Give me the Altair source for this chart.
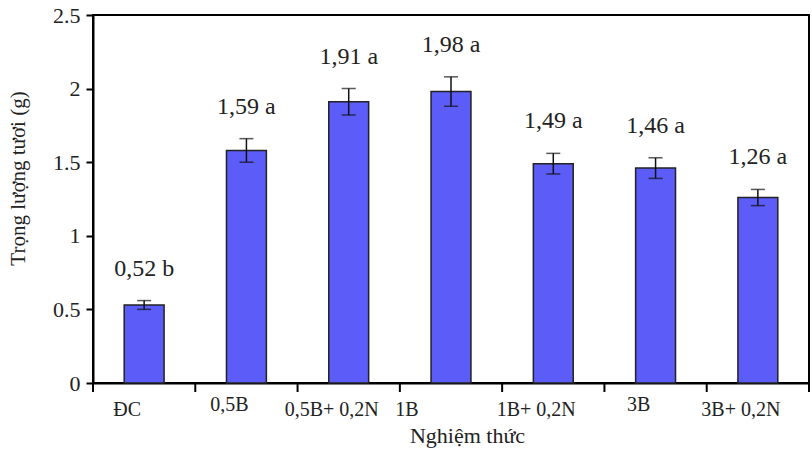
import altair as alt
import pandas as pd

categories = ["ĐC", "0,5B", "0,5B+ 0,2N", "1B", "1B+ 0,2N", "3B", "3B+ 0,2N"]
values = [0.53, 1.58, 1.91, 1.98, 1.49, 1.46, 1.26]
errors = [0.03, 0.08, 0.09, 0.10, 0.07, 0.07, 0.055]
labels = ["0,52 b", "1,59 a", "1,91 a", "1,98 a", "1,49 a", "1,46 a", "1,26 a"]

df = pd.DataFrame({
    "cat": categories,
    "val": values,
    "err": errors,
    "lab": labels,
})
df["lo"] = df["val"] - df["err"]
df["hi"] = df["val"] + df["err"]

FONT = "Liberation Serif, Times New Roman, serif"
P_IN = 0.61

x_scale = alt.Scale(paddingInner=P_IN, paddingOuter=P_IN / 2)

x = alt.X(
    "cat:N",
    sort=categories,
    scale=x_scale,
    axis=alt.Axis(
        title="Nghiệm thức",
        labelAngle=0,
        ticks=False,
        labelOffset={"condition": {"test": "datum.value == '1B'", "value": -44}, "value": -17},
        labelPadding={"condition": {"test": "datum.value == '0,5B' || datum.value == '3B'", "value": 11}, "value": 16},
        titleX=374,
    ),
)
x_plain = alt.X("cat:N", sort=categories)

y_scale = alt.Scale(domain=[0, 2.5], nice=False, zero=True)
y_axis = alt.Axis(
    title="Trọng lượng tươi (g)",
    values=[0, 0.5, 1, 1.5, 2, 2.5],
    labelExpr="datum.value",
    grid=False,
    titleX=-75,
    titleY=163,
)

base = alt.Chart(df)

bars = base.mark_bar(color="#5c5cf8", stroke="#222", strokeWidth=1.5).encode(
    x=x,
    y=alt.Y("val:Q", scale=y_scale, axis=y_axis),
)

rule = base.mark_rule(color="#111", strokeWidth=1.5).encode(
    x=x_plain,
    y="lo:Q",
    y2="hi:Q",
)

cap_hi = base.mark_tick(color="#111", size=14, thickness=1.5).encode(
    x=x_plain,
    y="hi:Q",
)
cap_lo = base.mark_tick(color="#111", size=14, thickness=1.5).encode(
    x=x_plain,
    y="lo:Q",
)

text = base.mark_text(
    font=FONT, fontSize=24, baseline="bottom", dy=-20, color="#222"
).encode(
    x=x_plain,
    y="hi:Q",
    text="lab:N",
)

main = alt.layer(bars, rule, cap_hi, cap_lo, text)

# x-axis ticks at category boundaries (own band scale with no padding)
tick_scale = alt.Scale(paddingInner=0, paddingOuter=0)
ticks_left = base.mark_rule(color="black", strokeWidth=2).encode(
    x=alt.X("cat:N", sort=categories, scale=tick_scale, axis=None, bandPosition=0),
    y=alt.value(368),
    y2=alt.value(377),
)
ticks_right = base.transform_filter(
    alt.datum.cat == categories[-1]
).mark_rule(color="black", strokeWidth=2).encode(
    x=alt.X("cat:N", sort=categories, scale=tick_scale, axis=None, bandPosition=1),
    y=alt.value(368),
    y2=alt.value(377),
)
tick_layer = alt.layer(ticks_left, ticks_right)

chart = (
    alt.layer(main, tick_layer)
    .resolve_scale(x="independent")
    .properties(
        width=716,
        height=368,
        autosize=alt.AutoSizeParams(type="none"),
        padding={"left": 93, "top": 15, "right": 3, "bottom": 78},
        background="white",
    )
    .configure_view(stroke="black", strokeWidth=2)
    .configure_axis(
        labelFont=FONT,
        titleFont=FONT,
        labelColor="#222",
        titleColor="#222",
        titleFontWeight="normal",
        tickColor="black",
        domainColor="black",
        domainWidth=2,
        tickWidth=2,
        grid=False,
    )
    .configure_axisX(
        labelFontSize=20,
        labelBaseline="top",
        titleFontSize=22,
        titlePadding=6,
    )
    .configure_axisY(
        tickSize=7,
        labelFontSize=22,
        labelPadding=6,
        titleFontSize=21,
        titleBaseline="middle",
    )
)

chart.save("out.html", embed_options={"renderer": "svg", "actions": False})
